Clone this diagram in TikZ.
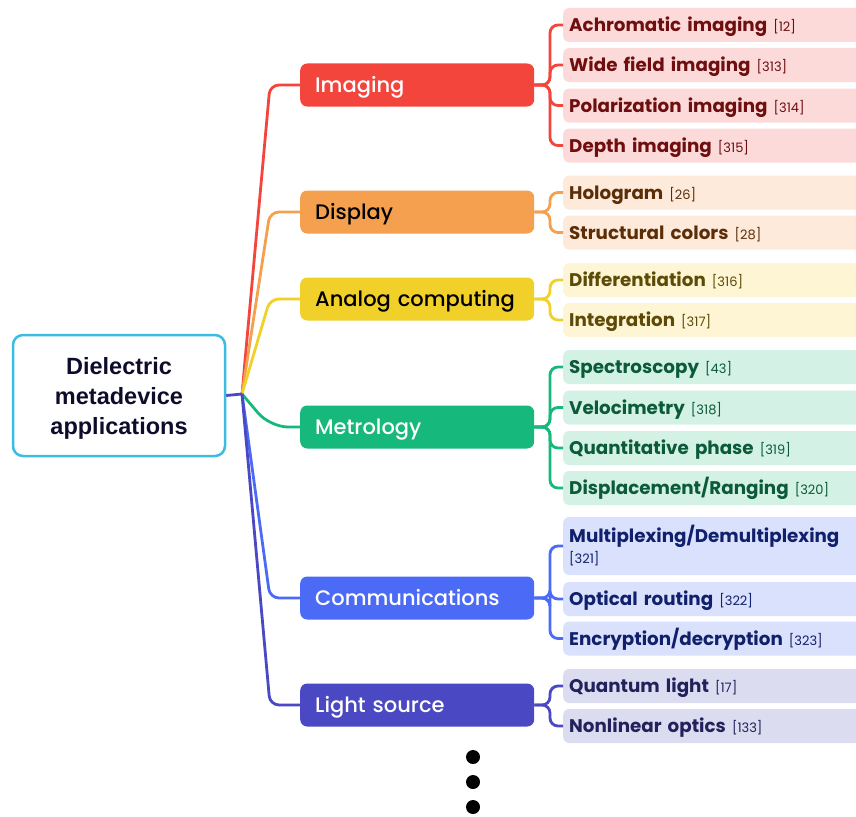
\documentclass[tikz,border=0pt]{standalone}
\usepackage{fontspec}
\setmainfont{Poppins}
\newfontfamily\medfont{Poppins Medium}
\newfontfamily\rootfont{Liberation Sans}
\definecolor{cRed}{HTML}{F4453D}\definecolor{fRed}{HTML}{FDDADA}\definecolor{tRed}{HTML}{6E0E0E}
\definecolor{cOrg}{HTML}{F5A04F}\definecolor{fOrg}{HTML}{FDEADB}\definecolor{tOrg}{HTML}{5C2E08}
\definecolor{cYel}{HTML}{F1D02A}\definecolor{fYel}{HTML}{FDF5D3}\definecolor{tYel}{HTML}{5C4A06}
\definecolor{cGrn}{HTML}{17B87B}\definecolor{fGrn}{HTML}{D3F2E5}\definecolor{tGrn}{HTML}{0B5A3A}
\definecolor{cBlu}{HTML}{4B6BF6}\definecolor{fBlu}{HTML}{DAE1FD}\definecolor{tBlu}{HTML}{10206C}
\definecolor{cInd}{HTML}{4A48C3}\definecolor{fInd}{HTML}{DCDCF1}\definecolor{tInd}{HTML}{22215C}
\definecolor{cRoot}{HTML}{3BBCE0}\definecolor{tRoot}{HTML}{0D0D2B}
\newcommand{\rf}[1]{\fontsize{13}{15}\selectfont\mdseries#1}
\begin{document}
\begin{tikzpicture}[x=1pt,y=-1pt,
  mainbox/.style={rounded corners=7pt, minimum height=43pt, inner xsep=15pt, inner ysep=0pt,
    text width=204pt, align=left, anchor=west, text height=17pt, text depth=2pt,
    font=\medfont\fontsize{21}{24}\selectfont},
  subbase/.style={rounded corners=6pt, minimum height=34pt, inner xsep=6pt, inner ysep=2pt,
    text width=300pt, align=left, anchor=west,
    font=\fontsize{18.3}{22}\selectfont\bfseries},
  subbox/.style={subbase, text height=15pt, text depth=2pt},
  br/.style={line width=2.8pt, rounded corners=9pt},
  sb/.style={line width=2.8pt, rounded corners=8pt}]
\clip (0,0) rectangle (856,816);
\coordinate (hub) at (242,394);
\coordinate (cx) at (270,0);
\coordinate (bx) at (550,0);
% root
\node[draw=cRoot, line width=2.5pt, rounded corners=10pt, minimum width=212pt, minimum height=121pt,
  align=center, text=tRoot, text depth=0pt, font=\rootfont\bfseries\fontsize{23.5}{30}\selectfont]
  (root) at (119,395.5) {Dielectric\\metadevice\\applications};
% main nodes
\node[mainbox, fill=cRed, text=white] (img) at (300,85) {Imaging};
\node[mainbox, fill=cOrg, text=black] (dis) at (300,212) {Display};
\node[mainbox, fill=cYel, text=black] (ana) at (300,299) {Analog computing};
\node[mainbox, fill=cGrn, text=white] (met) at (300,427) {Metrology};
\node[mainbox, fill=cBlu, text=white] (com) at (300,598) {Communications};
\node[mainbox, fill=cInd, text=white] (lig) at (300,705) {Light source};
% sub nodes
\node[subbox, fill=fRed, text=tRed] (s11) at (563,25) {Achromatic imaging \rf{[12]}};
\node[subbox, fill=fRed, text=tRed] (s12) at (563,65) {Wide field imaging \rf{[313]}};
\node[subbox, fill=fRed, text=tRed] (s13) at (563,105.5) {Polarization imaging \rf{[314]}};
\node[subbox, fill=fRed, text=tRed] (s14) at (563,145.5) {Depth imaging \rf{[315]}};
\node[subbox, fill=fOrg, text=tOrg] (s21) at (563,192.5) {Hologram \rf{[26]}};
\node[subbox, fill=fOrg, text=tOrg] (s22) at (563,232.5) {Structural colors \rf{[28]}};
\node[subbox, fill=fYel, text=tYel] (s31) at (563,280) {Differentiation \rf{[316]}};
\node[subbox, fill=fYel, text=tYel] (s32) at (563,320) {Integration \rf{[317]}};
\node[subbox, fill=fGrn, text=tGrn] (s41) at (563,367) {Spectroscopy \rf{[43]}};
\node[subbox, fill=fGrn, text=tGrn] (s42) at (563,407.5) {Velocimetry \rf{[318]}};
\node[subbox, fill=fGrn, text=tGrn] (s43) at (563,448) {Quantitative phase \rf{[319]}};
\node[subbox, fill=fGrn, text=tGrn] (s44) at (563,488) {Displacement/Ranging \rf{[320]}};
\node[subbase, fill=fBlu, text=tBlu, minimum height=58pt] (s51) at (563,546) {Multiplexing/Demultiplexing\\[-1pt]\rf{[321]}};
\node[subbox, fill=fBlu, text=tBlu] (s52) at (563,599) {Optical routing \rf{[322]}};
\node[subbox, fill=fBlu, text=tBlu] (s53) at (563,638.5) {Encryption/decryption \rf{[323]}};
\node[subbox, fill=fInd, text=tInd] (s61) at (563,686) {Quantum light \rf{[17]}};
\node[subbox, fill=fInd, text=tInd] (s62) at (563,726) {Nonlinear optics \rf{[133]}};
% connectors from root
\draw[br, cRed] (hub) -- (img.west -| cx) -- (img.west);
\draw[br, cOrg] (hub) -- (dis.west -| cx) -- (dis.west);
\draw[br, cYel] (hub) -- (ana.west -| cx) -- (ana.west);
\draw[br, cGrn, rounded corners=18pt] (hub) -- (met.west -| cx) -- (met.west);
\draw[br, cBlu] (hub) -- (com.west -| cx) -- (com.west);
\draw[br, cInd] (hub) -- (lig.west -| cx) -- (lig.west);
\draw[br, cInd] (root.east) -- (hub);
% sub connectors
\foreach \m/\s/\c in {img/s11/cRed, img/s12/cRed, img/s13/cRed, img/s14/cRed,
  dis/s21/cOrg, dis/s22/cOrg, ana/s31/cYel, ana/s32/cYel,
  met/s41/cGrn, met/s42/cGrn, met/s43/cGrn, met/s44/cGrn,
  com/s51/cBlu, com/s52/cBlu, com/s53/cBlu, lig/s61/cInd, lig/s62/cInd}
  \draw[sb, \c] (\m.east) -- (\m.east -| bx) |- (\s.west);
% dots
\fill (473,757) circle (7pt);
\fill (473,782) circle (7pt);
\fill (473,807) circle (7pt);
\end{tikzpicture}
\end{document}
